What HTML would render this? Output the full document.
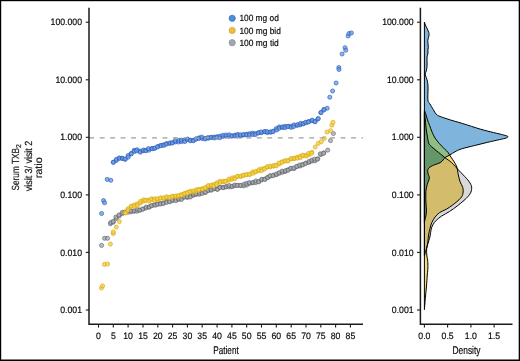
<!DOCTYPE html>
<html><head><meta charset="utf-8"><style>html,body{margin:0;padding:0;background:#fff;}svg{display:block;will-change:transform;}text{font-family:"Liberation Sans",sans-serif;text-rendering:geometricPrecision;stroke:#111;stroke-width:0.18px;}</style></head>
<body><svg width="520" height="361" viewBox="0 0 520 361" font-family="Liberation Sans, sans-serif">
<rect x="0" y="0" width="520" height="361" fill="#fff"/>
<g fill="#a8a8a8" fill-opacity="0.75" stroke="#5a606c" stroke-width="0.8" stroke-opacity="0.8"><circle cx="101.6" cy="245.4" r="2.05"/><circle cx="104.6" cy="238.3" r="2.05"/><circle cx="107.5" cy="238.3" r="2.05"/><circle cx="327.7" cy="150.1" r="2.05"/><circle cx="330.5" cy="140.6" r="2.05"/><circle cx="333.4" cy="133.5" r="2.05"/><circle cx="110.4" cy="223.8" r="2.05"/><circle cx="110.8" cy="222.5" r="2.05"/><circle cx="113.3" cy="222.2" r="2.05"/><circle cx="113.1" cy="221.4" r="2.05"/><circle cx="116.3" cy="218.5" r="2.05"/><circle cx="115.8" cy="217.1" r="2.05"/><circle cx="119.2" cy="215.9" r="2.05"/><circle cx="119.0" cy="214.9" r="2.05"/><circle cx="122.2" cy="213.7" r="2.05"/><circle cx="122.4" cy="212.3" r="2.05"/><circle cx="125.2" cy="212.1" r="2.05"/><circle cx="125.1" cy="212.3" r="2.05"/><circle cx="128.1" cy="210.6" r="2.05"/><circle cx="128.2" cy="212.3" r="2.05"/><circle cx="131.1" cy="211.8" r="2.05"/><circle cx="131.2" cy="211.1" r="2.05"/><circle cx="134.1" cy="211.3" r="2.05"/><circle cx="134.3" cy="210.8" r="2.05"/><circle cx="137.0" cy="211.3" r="2.05"/><circle cx="137.5" cy="209.6" r="2.05"/><circle cx="140.0" cy="210.2" r="2.05"/><circle cx="139.8" cy="210.1" r="2.05"/><circle cx="143.0" cy="209.1" r="2.05"/><circle cx="142.7" cy="209.0" r="2.05"/><circle cx="145.9" cy="208.0" r="2.05"/><circle cx="146.3" cy="207.1" r="2.05"/><circle cx="148.9" cy="207.1" r="2.05"/><circle cx="149.4" cy="207.0" r="2.05"/><circle cx="151.9" cy="205.7" r="2.05"/><circle cx="151.4" cy="205.6" r="2.05"/><circle cx="154.8" cy="204.5" r="2.05"/><circle cx="155.1" cy="205.3" r="2.05"/><circle cx="157.8" cy="204.1" r="2.05"/><circle cx="157.4" cy="204.3" r="2.05"/><circle cx="160.7" cy="203.4" r="2.05"/><circle cx="160.4" cy="204.1" r="2.05"/><circle cx="163.7" cy="202.8" r="2.05"/><circle cx="163.3" cy="203.6" r="2.05"/><circle cx="166.7" cy="201.3" r="2.05"/><circle cx="166.5" cy="202.5" r="2.05"/><circle cx="169.6" cy="201.5" r="2.05"/><circle cx="169.7" cy="201.7" r="2.05"/><circle cx="172.6" cy="200.6" r="2.05"/><circle cx="172.4" cy="199.9" r="2.05"/><circle cx="175.6" cy="199.2" r="2.05"/><circle cx="175.8" cy="200.7" r="2.05"/><circle cx="178.5" cy="199.4" r="2.05"/><circle cx="178.8" cy="199.0" r="2.05"/><circle cx="181.5" cy="198.2" r="2.05"/><circle cx="181.4" cy="199.5" r="2.05"/><circle cx="184.5" cy="196.9" r="2.05"/><circle cx="184.5" cy="197.1" r="2.05"/><circle cx="187.4" cy="197.5" r="2.05"/><circle cx="187.2" cy="196.6" r="2.05"/><circle cx="190.4" cy="196.1" r="2.05"/><circle cx="190.4" cy="197.0" r="2.05"/><circle cx="193.3" cy="195.3" r="2.05"/><circle cx="193.8" cy="194.6" r="2.05"/><circle cx="196.3" cy="194.4" r="2.05"/><circle cx="195.8" cy="193.8" r="2.05"/><circle cx="199.3" cy="194.3" r="2.05"/><circle cx="199.5" cy="193.0" r="2.05"/><circle cx="202.2" cy="192.3" r="2.05"/><circle cx="202.1" cy="193.5" r="2.05"/><circle cx="205.2" cy="192.5" r="2.05"/><circle cx="205.5" cy="192.2" r="2.05"/><circle cx="208.2" cy="190.5" r="2.05"/><circle cx="208.0" cy="190.3" r="2.05"/><circle cx="211.1" cy="190.3" r="2.05"/><circle cx="211.2" cy="189.5" r="2.05"/><circle cx="214.1" cy="189.0" r="2.05"/><circle cx="214.4" cy="188.3" r="2.05"/><circle cx="217.1" cy="188.9" r="2.05"/><circle cx="217.5" cy="189.5" r="2.05"/><circle cx="220.0" cy="187.2" r="2.05"/><circle cx="220.1" cy="187.6" r="2.05"/><circle cx="223.0" cy="187.4" r="2.05"/><circle cx="223.6" cy="187.7" r="2.05"/><circle cx="226.0" cy="186.6" r="2.05"/><circle cx="226.4" cy="186.9" r="2.05"/><circle cx="228.9" cy="186.9" r="2.05"/><circle cx="229.2" cy="185.5" r="2.05"/><circle cx="231.9" cy="186.7" r="2.05"/><circle cx="232.1" cy="186.2" r="2.05"/><circle cx="234.8" cy="185.8" r="2.05"/><circle cx="234.8" cy="185.0" r="2.05"/><circle cx="237.8" cy="185.4" r="2.05"/><circle cx="237.3" cy="185.4" r="2.05"/><circle cx="240.8" cy="185.5" r="2.05"/><circle cx="240.7" cy="185.4" r="2.05"/><circle cx="243.7" cy="185.9" r="2.05"/><circle cx="244.2" cy="184.1" r="2.05"/><circle cx="246.7" cy="185.1" r="2.05"/><circle cx="246.8" cy="183.4" r="2.05"/><circle cx="249.7" cy="183.4" r="2.05"/><circle cx="249.3" cy="182.6" r="2.05"/><circle cx="252.6" cy="182.9" r="2.05"/><circle cx="253.1" cy="182.4" r="2.05"/><circle cx="255.6" cy="182.6" r="2.05"/><circle cx="255.8" cy="181.0" r="2.05"/><circle cx="258.6" cy="181.5" r="2.05"/><circle cx="258.7" cy="181.9" r="2.05"/><circle cx="261.5" cy="180.0" r="2.05"/><circle cx="261.8" cy="179.3" r="2.05"/><circle cx="264.5" cy="179.1" r="2.05"/><circle cx="265.0" cy="179.4" r="2.05"/><circle cx="267.4" cy="177.5" r="2.05"/><circle cx="267.8" cy="177.6" r="2.05"/><circle cx="270.4" cy="176.1" r="2.05"/><circle cx="269.9" cy="175.7" r="2.05"/><circle cx="273.4" cy="175.1" r="2.05"/><circle cx="273.0" cy="175.7" r="2.05"/><circle cx="276.3" cy="174.7" r="2.05"/><circle cx="276.4" cy="174.1" r="2.05"/><circle cx="279.3" cy="173.2" r="2.05"/><circle cx="279.1" cy="172.8" r="2.05"/><circle cx="282.3" cy="172.3" r="2.05"/><circle cx="282.1" cy="171.1" r="2.05"/><circle cx="285.2" cy="171.6" r="2.05"/><circle cx="285.5" cy="170.6" r="2.05"/><circle cx="288.2" cy="169.7" r="2.05"/><circle cx="288.2" cy="170.2" r="2.05"/><circle cx="291.2" cy="168.5" r="2.05"/><circle cx="290.6" cy="168.3" r="2.05"/><circle cx="294.1" cy="168.6" r="2.05"/><circle cx="293.7" cy="168.0" r="2.05"/><circle cx="297.1" cy="166.6" r="2.05"/><circle cx="296.7" cy="166.3" r="2.05"/><circle cx="300.1" cy="166.0" r="2.05"/><circle cx="299.7" cy="165.0" r="2.05"/><circle cx="303.0" cy="164.3" r="2.05"/><circle cx="302.6" cy="164.9" r="2.05"/><circle cx="306.0" cy="163.0" r="2.05"/><circle cx="305.4" cy="163.6" r="2.05"/><circle cx="308.9" cy="162.4" r="2.05"/><circle cx="309.2" cy="161.4" r="2.05"/><circle cx="311.9" cy="161.1" r="2.05"/><circle cx="311.8" cy="160.1" r="2.05"/><circle cx="314.9" cy="160.9" r="2.05"/><circle cx="314.5" cy="159.1" r="2.05"/><circle cx="317.8" cy="158.8" r="2.05"/><circle cx="317.4" cy="159.2" r="2.05"/><circle cx="320.8" cy="154.6" r="2.05"/><circle cx="320.3" cy="153.8" r="2.05"/><circle cx="323.8" cy="152.9" r="2.05"/><circle cx="323.5" cy="153.3" r="2.05"/></g><g fill="#f2cf48" fill-opacity="0.8" stroke="#d8a810" stroke-width="0.8" stroke-opacity="0.8"><circle cx="101.4" cy="288.0" r="2.05"/><circle cx="102.6" cy="285.9" r="2.05"/><circle cx="104.5" cy="264.4" r="2.05"/><circle cx="107.6" cy="264.0" r="2.05"/><circle cx="110.4" cy="244.1" r="2.05"/><circle cx="113.3" cy="233.5" r="2.05"/><circle cx="113.3" cy="232.0" r="2.05"/><circle cx="116.3" cy="227.1" r="2.05"/><circle cx="119.4" cy="221.6" r="2.05"/><circle cx="315.2" cy="147.0" r="2.05"/><circle cx="318.3" cy="143.4" r="2.05"/><circle cx="321.3" cy="141.7" r="2.05"/><circle cx="324.3" cy="138.4" r="2.05"/><circle cx="327.0" cy="132.1" r="2.05"/><circle cx="330.5" cy="130.7" r="2.05"/><circle cx="331.9" cy="125.2" r="2.05"/><circle cx="333.0" cy="122.4" r="2.05"/><circle cx="125.2" cy="212.6" r="2.05"/><circle cx="125.7" cy="213.0" r="2.05"/><circle cx="128.1" cy="208.8" r="2.05"/><circle cx="127.8" cy="210.0" r="2.05"/><circle cx="131.1" cy="206.5" r="2.05"/><circle cx="131.4" cy="206.1" r="2.05"/><circle cx="134.1" cy="205.1" r="2.05"/><circle cx="134.1" cy="206.4" r="2.05"/><circle cx="137.0" cy="203.9" r="2.05"/><circle cx="137.4" cy="205.5" r="2.05"/><circle cx="140.0" cy="203.2" r="2.05"/><circle cx="140.4" cy="201.4" r="2.05"/><circle cx="143.0" cy="201.3" r="2.05"/><circle cx="143.4" cy="199.9" r="2.05"/><circle cx="145.9" cy="200.0" r="2.05"/><circle cx="145.6" cy="200.5" r="2.05"/><circle cx="148.9" cy="200.2" r="2.05"/><circle cx="148.9" cy="201.0" r="2.05"/><circle cx="151.9" cy="199.1" r="2.05"/><circle cx="151.3" cy="199.0" r="2.05"/><circle cx="154.8" cy="198.7" r="2.05"/><circle cx="154.3" cy="200.6" r="2.05"/><circle cx="157.8" cy="199.5" r="2.05"/><circle cx="157.3" cy="198.8" r="2.05"/><circle cx="160.7" cy="198.0" r="2.05"/><circle cx="160.5" cy="198.0" r="2.05"/><circle cx="163.7" cy="198.4" r="2.05"/><circle cx="163.8" cy="197.8" r="2.05"/><circle cx="166.7" cy="197.3" r="2.05"/><circle cx="166.5" cy="196.9" r="2.05"/><circle cx="169.6" cy="197.7" r="2.05"/><circle cx="169.9" cy="197.3" r="2.05"/><circle cx="172.6" cy="196.2" r="2.05"/><circle cx="172.2" cy="196.7" r="2.05"/><circle cx="175.6" cy="196.5" r="2.05"/><circle cx="175.9" cy="196.0" r="2.05"/><circle cx="178.5" cy="196.2" r="2.05"/><circle cx="178.7" cy="195.5" r="2.05"/><circle cx="181.5" cy="194.5" r="2.05"/><circle cx="181.5" cy="195.3" r="2.05"/><circle cx="184.5" cy="193.6" r="2.05"/><circle cx="184.7" cy="193.6" r="2.05"/><circle cx="187.4" cy="192.3" r="2.05"/><circle cx="187.5" cy="193.3" r="2.05"/><circle cx="190.4" cy="191.2" r="2.05"/><circle cx="190.3" cy="191.8" r="2.05"/><circle cx="193.3" cy="191.8" r="2.05"/><circle cx="193.9" cy="190.8" r="2.05"/><circle cx="196.3" cy="190.9" r="2.05"/><circle cx="196.7" cy="189.6" r="2.05"/><circle cx="199.3" cy="189.3" r="2.05"/><circle cx="198.8" cy="190.1" r="2.05"/><circle cx="202.2" cy="188.7" r="2.05"/><circle cx="202.7" cy="189.2" r="2.05"/><circle cx="205.2" cy="187.9" r="2.05"/><circle cx="205.5" cy="187.7" r="2.05"/><circle cx="208.2" cy="186.2" r="2.05"/><circle cx="208.3" cy="185.6" r="2.05"/><circle cx="211.1" cy="185.6" r="2.05"/><circle cx="211.5" cy="185.1" r="2.05"/><circle cx="214.1" cy="184.4" r="2.05"/><circle cx="213.6" cy="186.1" r="2.05"/><circle cx="217.1" cy="182.7" r="2.05"/><circle cx="216.5" cy="184.2" r="2.05"/><circle cx="220.0" cy="181.2" r="2.05"/><circle cx="220.4" cy="182.3" r="2.05"/><circle cx="223.0" cy="181.8" r="2.05"/><circle cx="223.5" cy="181.4" r="2.05"/><circle cx="226.0" cy="181.2" r="2.05"/><circle cx="225.4" cy="181.3" r="2.05"/><circle cx="228.9" cy="180.0" r="2.05"/><circle cx="229.2" cy="179.0" r="2.05"/><circle cx="231.9" cy="179.4" r="2.05"/><circle cx="232.4" cy="177.9" r="2.05"/><circle cx="234.8" cy="177.6" r="2.05"/><circle cx="234.9" cy="178.7" r="2.05"/><circle cx="237.8" cy="176.4" r="2.05"/><circle cx="237.4" cy="176.3" r="2.05"/><circle cx="240.8" cy="176.5" r="2.05"/><circle cx="241.1" cy="176.0" r="2.05"/><circle cx="243.7" cy="175.3" r="2.05"/><circle cx="243.6" cy="175.2" r="2.05"/><circle cx="246.7" cy="174.6" r="2.05"/><circle cx="246.2" cy="174.7" r="2.05"/><circle cx="249.7" cy="174.5" r="2.05"/><circle cx="249.6" cy="174.3" r="2.05"/><circle cx="252.6" cy="172.0" r="2.05"/><circle cx="252.9" cy="173.3" r="2.05"/><circle cx="255.6" cy="171.9" r="2.05"/><circle cx="255.6" cy="171.6" r="2.05"/><circle cx="258.6" cy="170.8" r="2.05"/><circle cx="259.0" cy="169.7" r="2.05"/><circle cx="261.5" cy="168.8" r="2.05"/><circle cx="261.8" cy="170.6" r="2.05"/><circle cx="264.5" cy="168.5" r="2.05"/><circle cx="264.4" cy="169.0" r="2.05"/><circle cx="267.4" cy="167.0" r="2.05"/><circle cx="267.2" cy="166.8" r="2.05"/><circle cx="270.4" cy="166.9" r="2.05"/><circle cx="270.2" cy="166.1" r="2.05"/><circle cx="273.4" cy="166.2" r="2.05"/><circle cx="273.9" cy="165.4" r="2.05"/><circle cx="276.3" cy="165.2" r="2.05"/><circle cx="276.2" cy="165.8" r="2.05"/><circle cx="279.3" cy="163.9" r="2.05"/><circle cx="279.0" cy="163.0" r="2.05"/><circle cx="282.3" cy="161.7" r="2.05"/><circle cx="282.2" cy="162.3" r="2.05"/><circle cx="285.2" cy="160.8" r="2.05"/><circle cx="285.1" cy="160.9" r="2.05"/><circle cx="288.2" cy="160.4" r="2.05"/><circle cx="287.8" cy="161.1" r="2.05"/><circle cx="291.2" cy="158.7" r="2.05"/><circle cx="291.3" cy="158.6" r="2.05"/><circle cx="294.1" cy="158.6" r="2.05"/><circle cx="294.5" cy="158.2" r="2.05"/><circle cx="297.1" cy="157.3" r="2.05"/><circle cx="297.4" cy="158.2" r="2.05"/><circle cx="300.1" cy="156.4" r="2.05"/><circle cx="300.3" cy="157.7" r="2.05"/><circle cx="303.0" cy="155.7" r="2.05"/><circle cx="302.7" cy="155.1" r="2.05"/><circle cx="306.0" cy="155.3" r="2.05"/><circle cx="306.2" cy="156.1" r="2.05"/><circle cx="308.9" cy="154.7" r="2.05"/><circle cx="308.6" cy="153.3" r="2.05"/><circle cx="311.9" cy="152.3" r="2.05"/><circle cx="311.5" cy="153.3" r="2.05"/></g><g fill="#6b9ae0" fill-opacity="0.75" stroke="#2558bb" stroke-width="0.8" stroke-opacity="0.8"><circle cx="101.6" cy="213.5" r="2.05"/><circle cx="103.5" cy="200.6" r="2.05"/><circle cx="104.6" cy="202.8" r="2.05"/><circle cx="107.2" cy="179.4" r="2.05"/><circle cx="110.8" cy="180.3" r="2.05"/><circle cx="327.2" cy="108.3" r="2.05"/><circle cx="329.8" cy="97.2" r="2.05"/><circle cx="332.6" cy="91.0" r="2.05"/><circle cx="336.1" cy="83.0" r="2.05"/><circle cx="338.8" cy="67.5" r="2.05"/><circle cx="339.0" cy="69.5" r="2.05"/><circle cx="342.1" cy="54.0" r="2.05"/><circle cx="345.0" cy="47.7" r="2.05"/><circle cx="345.8" cy="50.2" r="2.05"/><circle cx="348.1" cy="36.0" r="2.05"/><circle cx="349.0" cy="33.5" r="2.05"/><circle cx="351.4" cy="33.0" r="2.05"/><circle cx="113.3" cy="162.2" r="2.05"/><circle cx="113.4" cy="162.3" r="2.05"/><circle cx="116.3" cy="160.5" r="2.05"/><circle cx="116.4" cy="159.3" r="2.05"/><circle cx="119.2" cy="158.0" r="2.05"/><circle cx="119.7" cy="158.3" r="2.05"/><circle cx="122.2" cy="158.2" r="2.05"/><circle cx="122.8" cy="158.6" r="2.05"/><circle cx="125.2" cy="159.3" r="2.05"/><circle cx="125.1" cy="159.1" r="2.05"/><circle cx="128.1" cy="155.5" r="2.05"/><circle cx="128.3" cy="157.1" r="2.05"/><circle cx="131.1" cy="153.5" r="2.05"/><circle cx="131.4" cy="153.8" r="2.05"/><circle cx="134.1" cy="150.4" r="2.05"/><circle cx="134.4" cy="151.4" r="2.05"/><circle cx="137.0" cy="149.7" r="2.05"/><circle cx="136.5" cy="150.9" r="2.05"/><circle cx="140.0" cy="151.1" r="2.05"/><circle cx="140.3" cy="152.2" r="2.05"/><circle cx="143.0" cy="150.8" r="2.05"/><circle cx="143.5" cy="150.1" r="2.05"/><circle cx="145.9" cy="150.3" r="2.05"/><circle cx="145.9" cy="150.8" r="2.05"/><circle cx="148.9" cy="150.2" r="2.05"/><circle cx="148.4" cy="148.6" r="2.05"/><circle cx="151.9" cy="148.4" r="2.05"/><circle cx="152.4" cy="148.7" r="2.05"/><circle cx="154.8" cy="148.3" r="2.05"/><circle cx="154.6" cy="148.1" r="2.05"/><circle cx="157.8" cy="146.5" r="2.05"/><circle cx="157.6" cy="146.9" r="2.05"/><circle cx="160.7" cy="145.4" r="2.05"/><circle cx="161.2" cy="145.7" r="2.05"/><circle cx="163.7" cy="144.8" r="2.05"/><circle cx="164.1" cy="145.3" r="2.05"/><circle cx="166.7" cy="143.5" r="2.05"/><circle cx="166.3" cy="144.1" r="2.05"/><circle cx="169.6" cy="143.5" r="2.05"/><circle cx="170.1" cy="142.9" r="2.05"/><circle cx="172.6" cy="142.6" r="2.05"/><circle cx="172.3" cy="143.0" r="2.05"/><circle cx="175.6" cy="141.9" r="2.05"/><circle cx="175.3" cy="140.6" r="2.05"/><circle cx="178.5" cy="142.0" r="2.05"/><circle cx="179.1" cy="140.3" r="2.05"/><circle cx="181.5" cy="141.6" r="2.05"/><circle cx="181.4" cy="140.1" r="2.05"/><circle cx="184.5" cy="140.3" r="2.05"/><circle cx="184.8" cy="141.6" r="2.05"/><circle cx="187.4" cy="139.4" r="2.05"/><circle cx="187.6" cy="139.1" r="2.05"/><circle cx="190.4" cy="140.2" r="2.05"/><circle cx="190.2" cy="140.8" r="2.05"/><circle cx="193.3" cy="140.3" r="2.05"/><circle cx="193.4" cy="140.7" r="2.05"/><circle cx="196.3" cy="138.7" r="2.05"/><circle cx="195.8" cy="139.3" r="2.05"/><circle cx="199.3" cy="137.8" r="2.05"/><circle cx="198.9" cy="138.4" r="2.05"/><circle cx="202.2" cy="138.5" r="2.05"/><circle cx="201.8" cy="137.1" r="2.05"/><circle cx="205.2" cy="138.5" r="2.05"/><circle cx="205.0" cy="139.0" r="2.05"/><circle cx="208.2" cy="138.3" r="2.05"/><circle cx="208.0" cy="137.5" r="2.05"/><circle cx="211.1" cy="137.3" r="2.05"/><circle cx="211.3" cy="137.5" r="2.05"/><circle cx="214.1" cy="137.0" r="2.05"/><circle cx="214.2" cy="138.0" r="2.05"/><circle cx="217.1" cy="136.7" r="2.05"/><circle cx="217.0" cy="137.3" r="2.05"/><circle cx="220.0" cy="136.1" r="2.05"/><circle cx="219.8" cy="137.8" r="2.05"/><circle cx="223.0" cy="136.4" r="2.05"/><circle cx="223.0" cy="135.2" r="2.05"/><circle cx="226.0" cy="136.1" r="2.05"/><circle cx="226.0" cy="135.0" r="2.05"/><circle cx="228.9" cy="136.2" r="2.05"/><circle cx="229.1" cy="134.8" r="2.05"/><circle cx="231.9" cy="135.9" r="2.05"/><circle cx="231.8" cy="136.1" r="2.05"/><circle cx="234.8" cy="135.1" r="2.05"/><circle cx="235.1" cy="136.0" r="2.05"/><circle cx="237.8" cy="134.4" r="2.05"/><circle cx="237.3" cy="135.7" r="2.05"/><circle cx="240.8" cy="135.9" r="2.05"/><circle cx="240.5" cy="134.9" r="2.05"/><circle cx="243.7" cy="135.0" r="2.05"/><circle cx="243.5" cy="134.5" r="2.05"/><circle cx="246.7" cy="134.2" r="2.05"/><circle cx="246.5" cy="134.8" r="2.05"/><circle cx="249.7" cy="133.7" r="2.05"/><circle cx="249.5" cy="134.7" r="2.05"/><circle cx="252.6" cy="133.1" r="2.05"/><circle cx="252.7" cy="134.6" r="2.05"/><circle cx="255.6" cy="133.5" r="2.05"/><circle cx="255.3" cy="134.6" r="2.05"/><circle cx="258.6" cy="132.7" r="2.05"/><circle cx="258.2" cy="133.0" r="2.05"/><circle cx="261.5" cy="132.7" r="2.05"/><circle cx="261.0" cy="131.9" r="2.05"/><circle cx="264.5" cy="131.6" r="2.05"/><circle cx="264.9" cy="131.8" r="2.05"/><circle cx="267.4" cy="132.6" r="2.05"/><circle cx="267.1" cy="131.5" r="2.05"/><circle cx="270.4" cy="132.2" r="2.05"/><circle cx="270.9" cy="131.9" r="2.05"/><circle cx="273.4" cy="131.1" r="2.05"/><circle cx="272.9" cy="131.7" r="2.05"/><circle cx="276.3" cy="128.6" r="2.05"/><circle cx="276.7" cy="130.0" r="2.05"/><circle cx="279.3" cy="126.9" r="2.05"/><circle cx="279.0" cy="128.3" r="2.05"/><circle cx="282.3" cy="127.5" r="2.05"/><circle cx="282.6" cy="126.8" r="2.05"/><circle cx="285.2" cy="126.3" r="2.05"/><circle cx="285.0" cy="127.7" r="2.05"/><circle cx="288.2" cy="126.3" r="2.05"/><circle cx="288.0" cy="126.5" r="2.05"/><circle cx="291.2" cy="126.2" r="2.05"/><circle cx="291.1" cy="127.4" r="2.05"/><circle cx="294.1" cy="124.9" r="2.05"/><circle cx="293.5" cy="126.7" r="2.05"/><circle cx="297.1" cy="125.5" r="2.05"/><circle cx="297.7" cy="124.6" r="2.05"/><circle cx="300.1" cy="124.9" r="2.05"/><circle cx="300.6" cy="123.4" r="2.05"/><circle cx="303.0" cy="123.8" r="2.05"/><circle cx="303.4" cy="123.7" r="2.05"/><circle cx="306.0" cy="122.7" r="2.05"/><circle cx="305.7" cy="122.2" r="2.05"/><circle cx="308.9" cy="121.4" r="2.05"/><circle cx="308.4" cy="122.1" r="2.05"/><circle cx="311.9" cy="120.8" r="2.05"/><circle cx="312.3" cy="120.1" r="2.05"/><circle cx="314.9" cy="121.5" r="2.05"/><circle cx="315.1" cy="121.8" r="2.05"/><circle cx="317.8" cy="119.0" r="2.05"/><circle cx="318.3" cy="118.5" r="2.05"/><circle cx="320.8" cy="112.6" r="2.05"/><circle cx="321.1" cy="112.6" r="2.05"/><circle cx="323.8" cy="109.5" r="2.05"/><circle cx="324.0" cy="109.9" r="2.05"/></g>
<line x1="89.2" y1="137.9" x2="363" y2="137.9" stroke="#9e9e9e" stroke-width="1.3" stroke-dasharray="4.9 5.575"/>

<defs>
<clipPath id="cy"><path d="M424.40,110.50 C424.50,110.72 424.67,110.88 425.00,111.80 C425.33,112.72 425.98,114.63 426.40,116.00 C426.82,117.37 426.97,118.42 427.50,120.00 C428.03,121.58 428.90,123.65 429.60,125.50 C430.30,127.35 431.00,129.37 431.70,131.10 C432.40,132.83 433.00,134.40 433.80,135.90 C434.60,137.40 435.58,138.83 436.50,140.10 C437.42,141.37 438.38,142.43 439.30,143.50 C440.22,144.57 441.08,145.57 442.00,146.50 C442.92,147.43 443.78,148.10 444.80,149.10 C445.82,150.10 447.20,151.35 448.10,152.50 C449.00,153.65 449.47,154.87 450.20,156.00 C450.93,157.13 451.70,158.10 452.50,159.30 C453.30,160.50 454.25,161.83 455.00,163.20 C455.75,164.57 456.50,165.82 457.00,167.50 C457.50,169.18 457.50,170.95 458.00,173.30 C458.50,175.65 459.20,179.23 460.00,181.60 C460.80,183.97 462.30,185.57 462.80,187.50 C463.30,189.43 463.37,191.42 463.00,193.20 C462.63,194.98 462.30,196.25 460.60,198.20 C458.90,200.15 455.20,203.05 452.80,204.90 C450.40,206.75 448.42,208.02 446.20,209.30 C443.98,210.58 441.35,211.30 439.50,212.60 C437.65,213.90 436.38,215.43 435.10,217.10 C433.82,218.77 432.63,220.77 431.80,222.60 C430.97,224.43 430.63,226.03 430.10,228.10 C429.57,230.17 428.98,232.58 428.60,235.00 C428.22,237.42 428.13,240.22 427.80,242.60 C427.47,244.98 426.75,247.07 426.60,249.30 C426.45,251.53 426.70,253.97 426.90,256.00 C427.10,258.03 427.65,259.30 427.80,261.50 C427.95,263.70 427.90,266.78 427.80,269.20 C427.70,271.62 427.42,273.20 427.20,276.00 C426.98,278.80 426.82,282.23 426.50,286.00 C426.18,289.77 425.65,294.67 425.30,298.60 C424.95,302.53 424.55,307.77 424.40,309.60 Z"/></clipPath>
<clipPath id="cg"><path d="M424.40,113.00 C424.52,113.75 424.90,115.87 425.10,117.50 C425.30,119.13 425.42,120.88 425.60,122.80 C425.78,124.72 425.88,126.58 426.20,129.00 C426.52,131.42 427.05,134.88 427.50,137.30 C427.95,139.72 428.23,141.95 428.90,143.50 C429.57,145.05 430.23,145.38 431.50,146.60 C432.77,147.82 434.98,149.55 436.50,150.80 C438.02,152.05 439.35,153.07 440.60,154.10 C441.85,155.13 442.75,156.03 444.00,157.00 C445.25,157.97 446.87,159.00 448.10,159.90 C449.33,160.80 450.18,161.30 451.40,162.40 C452.62,163.50 454.22,165.23 455.40,166.50 C456.58,167.77 457.18,168.58 458.50,170.00 C459.82,171.42 461.53,173.07 463.30,175.00 C465.07,176.93 467.72,179.63 469.10,181.60 C470.48,183.57 471.30,185.03 471.60,186.80 C471.90,188.57 471.50,190.58 470.90,192.20 C470.30,193.82 469.15,195.13 468.00,196.50 C466.85,197.87 465.80,198.82 464.00,200.40 C462.20,201.98 459.62,204.15 457.20,206.00 C454.78,207.85 452.08,209.83 449.50,211.50 C446.92,213.17 443.92,214.52 441.70,216.00 C439.48,217.48 437.67,218.93 436.20,220.40 C434.73,221.87 433.73,223.33 432.90,224.80 C432.07,226.27 431.67,227.33 431.20,229.20 C430.73,231.07 430.48,234.13 430.10,236.00 C429.72,237.87 429.38,238.73 428.90,240.40 C428.42,242.07 427.75,244.15 427.20,246.00 C426.65,247.85 426.07,249.83 425.60,251.50 C425.13,253.17 424.60,255.25 424.40,256.00 Z"/></clipPath>
<clipPath id="cb"><path d="M424.40,22.00 C424.57,22.50 424.93,23.88 425.40,25.00 C425.87,26.12 426.63,27.45 427.20,28.70 C427.77,29.95 428.48,31.57 428.80,32.50 C429.12,33.43 429.15,33.48 429.10,34.30 C429.05,35.12 428.72,36.37 428.50,37.40 C428.28,38.43 427.87,39.35 427.80,40.50 C427.73,41.65 428.02,43.15 428.10,44.30 C428.18,45.45 428.33,46.45 428.30,47.40 C428.27,48.35 427.95,49.10 427.90,50.00 C427.85,50.90 428.08,51.88 428.00,52.80 C427.92,53.72 427.57,54.58 427.40,55.50 C427.23,56.42 427.05,57.13 427.00,58.30 C426.95,59.47 427.10,61.12 427.10,62.50 C427.10,63.88 427.13,65.22 427.00,66.60 C426.87,67.98 426.60,69.53 426.30,70.80 C426.00,72.07 425.20,73.05 425.20,74.20 C425.20,75.35 425.93,76.53 426.30,77.70 C426.67,78.87 427.12,79.82 427.40,81.20 C427.68,82.58 427.90,84.28 428.00,86.00 C428.10,87.72 428.03,89.67 428.00,91.50 C427.97,93.33 427.78,95.38 427.80,97.00 C427.82,98.62 427.77,100.07 428.10,101.20 C428.43,102.33 428.93,102.40 429.80,103.80 C430.67,105.20 432.23,107.87 433.30,109.60 C434.37,111.33 435.05,113.05 436.20,114.20 C437.35,115.35 437.80,115.53 440.20,116.50 C442.60,117.47 446.93,118.85 450.60,120.00 C454.27,121.15 457.15,121.85 462.20,123.40 C467.25,124.95 475.70,127.78 480.90,129.30 C486.10,130.82 489.62,131.55 493.40,132.50 C497.18,133.45 501.20,134.35 503.60,135.00 C506.00,135.65 507.37,135.90 507.80,136.40 C508.23,136.90 507.57,137.47 506.20,138.00 C504.83,138.53 502.77,138.87 499.60,139.60 C496.43,140.33 491.35,141.42 487.20,142.40 C483.05,143.38 478.87,144.45 474.70,145.50 C470.53,146.55 465.32,147.75 462.20,148.70 C459.08,149.65 458.13,150.10 456.00,151.20 C453.87,152.30 451.23,154.23 449.40,155.30 C447.57,156.37 446.43,156.43 445.00,157.60 C443.57,158.77 442.88,160.97 440.80,162.30 C438.72,163.63 434.58,164.53 432.50,165.60 C430.42,166.67 429.07,167.48 428.30,168.70 C427.53,169.92 427.73,171.33 427.90,172.90 C428.07,174.47 429.40,176.20 429.30,178.10 C429.20,180.00 427.87,182.05 427.30,184.30 C426.73,186.55 426.13,188.65 425.90,191.60 C425.67,194.55 425.82,198.93 425.90,202.00 C425.98,205.07 426.38,207.75 426.40,210.00 C426.42,212.25 426.23,213.92 426.00,215.50 C425.77,217.08 425.27,218.25 425.00,219.50 C424.73,220.75 424.50,222.42 424.40,223.00 Z"/></clipPath>
</defs>
<path d="M424.40,113.00 C424.52,113.75 424.90,115.87 425.10,117.50 C425.30,119.13 425.42,120.88 425.60,122.80 C425.78,124.72 425.88,126.58 426.20,129.00 C426.52,131.42 427.05,134.88 427.50,137.30 C427.95,139.72 428.23,141.95 428.90,143.50 C429.57,145.05 430.23,145.38 431.50,146.60 C432.77,147.82 434.98,149.55 436.50,150.80 C438.02,152.05 439.35,153.07 440.60,154.10 C441.85,155.13 442.75,156.03 444.00,157.00 C445.25,157.97 446.87,159.00 448.10,159.90 C449.33,160.80 450.18,161.30 451.40,162.40 C452.62,163.50 454.22,165.23 455.40,166.50 C456.58,167.77 457.18,168.58 458.50,170.00 C459.82,171.42 461.53,173.07 463.30,175.00 C465.07,176.93 467.72,179.63 469.10,181.60 C470.48,183.57 471.30,185.03 471.60,186.80 C471.90,188.57 471.50,190.58 470.90,192.20 C470.30,193.82 469.15,195.13 468.00,196.50 C466.85,197.87 465.80,198.82 464.00,200.40 C462.20,201.98 459.62,204.15 457.20,206.00 C454.78,207.85 452.08,209.83 449.50,211.50 C446.92,213.17 443.92,214.52 441.70,216.00 C439.48,217.48 437.67,218.93 436.20,220.40 C434.73,221.87 433.73,223.33 432.90,224.80 C432.07,226.27 431.67,227.33 431.20,229.20 C430.73,231.07 430.48,234.13 430.10,236.00 C429.72,237.87 429.38,238.73 428.90,240.40 C428.42,242.07 427.75,244.15 427.20,246.00 C426.65,247.85 426.07,249.83 425.60,251.50 C425.13,253.17 424.60,255.25 424.40,256.00 Z" fill="#d9d9da"/>
<path d="M424.40,110.50 C424.50,110.72 424.67,110.88 425.00,111.80 C425.33,112.72 425.98,114.63 426.40,116.00 C426.82,117.37 426.97,118.42 427.50,120.00 C428.03,121.58 428.90,123.65 429.60,125.50 C430.30,127.35 431.00,129.37 431.70,131.10 C432.40,132.83 433.00,134.40 433.80,135.90 C434.60,137.40 435.58,138.83 436.50,140.10 C437.42,141.37 438.38,142.43 439.30,143.50 C440.22,144.57 441.08,145.57 442.00,146.50 C442.92,147.43 443.78,148.10 444.80,149.10 C445.82,150.10 447.20,151.35 448.10,152.50 C449.00,153.65 449.47,154.87 450.20,156.00 C450.93,157.13 451.70,158.10 452.50,159.30 C453.30,160.50 454.25,161.83 455.00,163.20 C455.75,164.57 456.50,165.82 457.00,167.50 C457.50,169.18 457.50,170.95 458.00,173.30 C458.50,175.65 459.20,179.23 460.00,181.60 C460.80,183.97 462.30,185.57 462.80,187.50 C463.30,189.43 463.37,191.42 463.00,193.20 C462.63,194.98 462.30,196.25 460.60,198.20 C458.90,200.15 455.20,203.05 452.80,204.90 C450.40,206.75 448.42,208.02 446.20,209.30 C443.98,210.58 441.35,211.30 439.50,212.60 C437.65,213.90 436.38,215.43 435.10,217.10 C433.82,218.77 432.63,220.77 431.80,222.60 C430.97,224.43 430.63,226.03 430.10,228.10 C429.57,230.17 428.98,232.58 428.60,235.00 C428.22,237.42 428.13,240.22 427.80,242.60 C427.47,244.98 426.75,247.07 426.60,249.30 C426.45,251.53 426.70,253.97 426.90,256.00 C427.10,258.03 427.65,259.30 427.80,261.50 C427.95,263.70 427.90,266.78 427.80,269.20 C427.70,271.62 427.42,273.20 427.20,276.00 C426.98,278.80 426.82,282.23 426.50,286.00 C426.18,289.77 425.65,294.67 425.30,298.60 C424.95,302.53 424.55,307.77 424.40,309.60 Z" fill="#f3db79"/>
<g clip-path="url(#cg)"><path d="M424.40,110.50 C424.50,110.72 424.67,110.88 425.00,111.80 C425.33,112.72 425.98,114.63 426.40,116.00 C426.82,117.37 426.97,118.42 427.50,120.00 C428.03,121.58 428.90,123.65 429.60,125.50 C430.30,127.35 431.00,129.37 431.70,131.10 C432.40,132.83 433.00,134.40 433.80,135.90 C434.60,137.40 435.58,138.83 436.50,140.10 C437.42,141.37 438.38,142.43 439.30,143.50 C440.22,144.57 441.08,145.57 442.00,146.50 C442.92,147.43 443.78,148.10 444.80,149.10 C445.82,150.10 447.20,151.35 448.10,152.50 C449.00,153.65 449.47,154.87 450.20,156.00 C450.93,157.13 451.70,158.10 452.50,159.30 C453.30,160.50 454.25,161.83 455.00,163.20 C455.75,164.57 456.50,165.82 457.00,167.50 C457.50,169.18 457.50,170.95 458.00,173.30 C458.50,175.65 459.20,179.23 460.00,181.60 C460.80,183.97 462.30,185.57 462.80,187.50 C463.30,189.43 463.37,191.42 463.00,193.20 C462.63,194.98 462.30,196.25 460.60,198.20 C458.90,200.15 455.20,203.05 452.80,204.90 C450.40,206.75 448.42,208.02 446.20,209.30 C443.98,210.58 441.35,211.30 439.50,212.60 C437.65,213.90 436.38,215.43 435.10,217.10 C433.82,218.77 432.63,220.77 431.80,222.60 C430.97,224.43 430.63,226.03 430.10,228.10 C429.57,230.17 428.98,232.58 428.60,235.00 C428.22,237.42 428.13,240.22 427.80,242.60 C427.47,244.98 426.75,247.07 426.60,249.30 C426.45,251.53 426.70,253.97 426.90,256.00 C427.10,258.03 427.65,259.30 427.80,261.50 C427.95,263.70 427.90,266.78 427.80,269.20 C427.70,271.62 427.42,273.20 427.20,276.00 C426.98,278.80 426.82,282.23 426.50,286.00 C426.18,289.77 425.65,294.67 425.30,298.60 C424.95,302.53 424.55,307.77 424.40,309.60 Z" fill="#d3bc6c"/></g>
<path d="M424.40,22.00 C424.57,22.50 424.93,23.88 425.40,25.00 C425.87,26.12 426.63,27.45 427.20,28.70 C427.77,29.95 428.48,31.57 428.80,32.50 C429.12,33.43 429.15,33.48 429.10,34.30 C429.05,35.12 428.72,36.37 428.50,37.40 C428.28,38.43 427.87,39.35 427.80,40.50 C427.73,41.65 428.02,43.15 428.10,44.30 C428.18,45.45 428.33,46.45 428.30,47.40 C428.27,48.35 427.95,49.10 427.90,50.00 C427.85,50.90 428.08,51.88 428.00,52.80 C427.92,53.72 427.57,54.58 427.40,55.50 C427.23,56.42 427.05,57.13 427.00,58.30 C426.95,59.47 427.10,61.12 427.10,62.50 C427.10,63.88 427.13,65.22 427.00,66.60 C426.87,67.98 426.60,69.53 426.30,70.80 C426.00,72.07 425.20,73.05 425.20,74.20 C425.20,75.35 425.93,76.53 426.30,77.70 C426.67,78.87 427.12,79.82 427.40,81.20 C427.68,82.58 427.90,84.28 428.00,86.00 C428.10,87.72 428.03,89.67 428.00,91.50 C427.97,93.33 427.78,95.38 427.80,97.00 C427.82,98.62 427.77,100.07 428.10,101.20 C428.43,102.33 428.93,102.40 429.80,103.80 C430.67,105.20 432.23,107.87 433.30,109.60 C434.37,111.33 435.05,113.05 436.20,114.20 C437.35,115.35 437.80,115.53 440.20,116.50 C442.60,117.47 446.93,118.85 450.60,120.00 C454.27,121.15 457.15,121.85 462.20,123.40 C467.25,124.95 475.70,127.78 480.90,129.30 C486.10,130.82 489.62,131.55 493.40,132.50 C497.18,133.45 501.20,134.35 503.60,135.00 C506.00,135.65 507.37,135.90 507.80,136.40 C508.23,136.90 507.57,137.47 506.20,138.00 C504.83,138.53 502.77,138.87 499.60,139.60 C496.43,140.33 491.35,141.42 487.20,142.40 C483.05,143.38 478.87,144.45 474.70,145.50 C470.53,146.55 465.32,147.75 462.20,148.70 C459.08,149.65 458.13,150.10 456.00,151.20 C453.87,152.30 451.23,154.23 449.40,155.30 C447.57,156.37 446.43,156.43 445.00,157.60 C443.57,158.77 442.88,160.97 440.80,162.30 C438.72,163.63 434.58,164.53 432.50,165.60 C430.42,166.67 429.07,167.48 428.30,168.70 C427.53,169.92 427.73,171.33 427.90,172.90 C428.07,174.47 429.40,176.20 429.30,178.10 C429.20,180.00 427.87,182.05 427.30,184.30 C426.73,186.55 426.13,188.65 425.90,191.60 C425.67,194.55 425.82,198.93 425.90,202.00 C425.98,205.07 426.38,207.75 426.40,210.00 C426.42,212.25 426.23,213.92 426.00,215.50 C425.77,217.08 425.27,218.25 425.00,219.50 C424.73,220.75 424.50,222.42 424.40,223.00 Z" fill="#7fb4dd"/>
<g clip-path="url(#cb)"><path d="M424.40,110.50 C424.50,110.72 424.67,110.88 425.00,111.80 C425.33,112.72 425.98,114.63 426.40,116.00 C426.82,117.37 426.97,118.42 427.50,120.00 C428.03,121.58 428.90,123.65 429.60,125.50 C430.30,127.35 431.00,129.37 431.70,131.10 C432.40,132.83 433.00,134.40 433.80,135.90 C434.60,137.40 435.58,138.83 436.50,140.10 C437.42,141.37 438.38,142.43 439.30,143.50 C440.22,144.57 441.08,145.57 442.00,146.50 C442.92,147.43 443.78,148.10 444.80,149.10 C445.82,150.10 447.20,151.35 448.10,152.50 C449.00,153.65 449.47,154.87 450.20,156.00 C450.93,157.13 451.70,158.10 452.50,159.30 C453.30,160.50 454.25,161.83 455.00,163.20 C455.75,164.57 456.50,165.82 457.00,167.50 C457.50,169.18 457.50,170.95 458.00,173.30 C458.50,175.65 459.20,179.23 460.00,181.60 C460.80,183.97 462.30,185.57 462.80,187.50 C463.30,189.43 463.37,191.42 463.00,193.20 C462.63,194.98 462.30,196.25 460.60,198.20 C458.90,200.15 455.20,203.05 452.80,204.90 C450.40,206.75 448.42,208.02 446.20,209.30 C443.98,210.58 441.35,211.30 439.50,212.60 C437.65,213.90 436.38,215.43 435.10,217.10 C433.82,218.77 432.63,220.77 431.80,222.60 C430.97,224.43 430.63,226.03 430.10,228.10 C429.57,230.17 428.98,232.58 428.60,235.00 C428.22,237.42 428.13,240.22 427.80,242.60 C427.47,244.98 426.75,247.07 426.60,249.30 C426.45,251.53 426.70,253.97 426.90,256.00 C427.10,258.03 427.65,259.30 427.80,261.50 C427.95,263.70 427.90,266.78 427.80,269.20 C427.70,271.62 427.42,273.20 427.20,276.00 C426.98,278.80 426.82,282.23 426.50,286.00 C426.18,289.77 425.65,294.67 425.30,298.60 C424.95,302.53 424.55,307.77 424.40,309.60 Z" fill="#8fbd82"/></g>
<g clip-path="url(#cb)"><g clip-path="url(#cg)"><path d="M424.40,110.50 C424.50,110.72 424.67,110.88 425.00,111.80 C425.33,112.72 425.98,114.63 426.40,116.00 C426.82,117.37 426.97,118.42 427.50,120.00 C428.03,121.58 428.90,123.65 429.60,125.50 C430.30,127.35 431.00,129.37 431.70,131.10 C432.40,132.83 433.00,134.40 433.80,135.90 C434.60,137.40 435.58,138.83 436.50,140.10 C437.42,141.37 438.38,142.43 439.30,143.50 C440.22,144.57 441.08,145.57 442.00,146.50 C442.92,147.43 443.78,148.10 444.80,149.10 C445.82,150.10 447.20,151.35 448.10,152.50 C449.00,153.65 449.47,154.87 450.20,156.00 C450.93,157.13 451.70,158.10 452.50,159.30 C453.30,160.50 454.25,161.83 455.00,163.20 C455.75,164.57 456.50,165.82 457.00,167.50 C457.50,169.18 457.50,170.95 458.00,173.30 C458.50,175.65 459.20,179.23 460.00,181.60 C460.80,183.97 462.30,185.57 462.80,187.50 C463.30,189.43 463.37,191.42 463.00,193.20 C462.63,194.98 462.30,196.25 460.60,198.20 C458.90,200.15 455.20,203.05 452.80,204.90 C450.40,206.75 448.42,208.02 446.20,209.30 C443.98,210.58 441.35,211.30 439.50,212.60 C437.65,213.90 436.38,215.43 435.10,217.10 C433.82,218.77 432.63,220.77 431.80,222.60 C430.97,224.43 430.63,226.03 430.10,228.10 C429.57,230.17 428.98,232.58 428.60,235.00 C428.22,237.42 428.13,240.22 427.80,242.60 C427.47,244.98 426.75,247.07 426.60,249.30 C426.45,251.53 426.70,253.97 426.90,256.00 C427.10,258.03 427.65,259.30 427.80,261.50 C427.95,263.70 427.90,266.78 427.80,269.20 C427.70,271.62 427.42,273.20 427.20,276.00 C426.98,278.80 426.82,282.23 426.50,286.00 C426.18,289.77 425.65,294.67 425.30,298.60 C424.95,302.53 424.55,307.77 424.40,309.60 Z" fill="#63976a"/></g></g>
<g fill="none" stroke="#000" stroke-width="1.0" stroke-linejoin="round">
<path d="M424.40,113.00 C424.52,113.75 424.90,115.87 425.10,117.50 C425.30,119.13 425.42,120.88 425.60,122.80 C425.78,124.72 425.88,126.58 426.20,129.00 C426.52,131.42 427.05,134.88 427.50,137.30 C427.95,139.72 428.23,141.95 428.90,143.50 C429.57,145.05 430.23,145.38 431.50,146.60 C432.77,147.82 434.98,149.55 436.50,150.80 C438.02,152.05 439.35,153.07 440.60,154.10 C441.85,155.13 442.75,156.03 444.00,157.00 C445.25,157.97 446.87,159.00 448.10,159.90 C449.33,160.80 450.18,161.30 451.40,162.40 C452.62,163.50 454.22,165.23 455.40,166.50 C456.58,167.77 457.18,168.58 458.50,170.00 C459.82,171.42 461.53,173.07 463.30,175.00 C465.07,176.93 467.72,179.63 469.10,181.60 C470.48,183.57 471.30,185.03 471.60,186.80 C471.90,188.57 471.50,190.58 470.90,192.20 C470.30,193.82 469.15,195.13 468.00,196.50 C466.85,197.87 465.80,198.82 464.00,200.40 C462.20,201.98 459.62,204.15 457.20,206.00 C454.78,207.85 452.08,209.83 449.50,211.50 C446.92,213.17 443.92,214.52 441.70,216.00 C439.48,217.48 437.67,218.93 436.20,220.40 C434.73,221.87 433.73,223.33 432.90,224.80 C432.07,226.27 431.67,227.33 431.20,229.20 C430.73,231.07 430.48,234.13 430.10,236.00 C429.72,237.87 429.38,238.73 428.90,240.40 C428.42,242.07 427.75,244.15 427.20,246.00 C426.65,247.85 426.07,249.83 425.60,251.50 C425.13,253.17 424.60,255.25 424.40,256.00 Z"/><path d="M424.40,110.50 C424.50,110.72 424.67,110.88 425.00,111.80 C425.33,112.72 425.98,114.63 426.40,116.00 C426.82,117.37 426.97,118.42 427.50,120.00 C428.03,121.58 428.90,123.65 429.60,125.50 C430.30,127.35 431.00,129.37 431.70,131.10 C432.40,132.83 433.00,134.40 433.80,135.90 C434.60,137.40 435.58,138.83 436.50,140.10 C437.42,141.37 438.38,142.43 439.30,143.50 C440.22,144.57 441.08,145.57 442.00,146.50 C442.92,147.43 443.78,148.10 444.80,149.10 C445.82,150.10 447.20,151.35 448.10,152.50 C449.00,153.65 449.47,154.87 450.20,156.00 C450.93,157.13 451.70,158.10 452.50,159.30 C453.30,160.50 454.25,161.83 455.00,163.20 C455.75,164.57 456.50,165.82 457.00,167.50 C457.50,169.18 457.50,170.95 458.00,173.30 C458.50,175.65 459.20,179.23 460.00,181.60 C460.80,183.97 462.30,185.57 462.80,187.50 C463.30,189.43 463.37,191.42 463.00,193.20 C462.63,194.98 462.30,196.25 460.60,198.20 C458.90,200.15 455.20,203.05 452.80,204.90 C450.40,206.75 448.42,208.02 446.20,209.30 C443.98,210.58 441.35,211.30 439.50,212.60 C437.65,213.90 436.38,215.43 435.10,217.10 C433.82,218.77 432.63,220.77 431.80,222.60 C430.97,224.43 430.63,226.03 430.10,228.10 C429.57,230.17 428.98,232.58 428.60,235.00 C428.22,237.42 428.13,240.22 427.80,242.60 C427.47,244.98 426.75,247.07 426.60,249.30 C426.45,251.53 426.70,253.97 426.90,256.00 C427.10,258.03 427.65,259.30 427.80,261.50 C427.95,263.70 427.90,266.78 427.80,269.20 C427.70,271.62 427.42,273.20 427.20,276.00 C426.98,278.80 426.82,282.23 426.50,286.00 C426.18,289.77 425.65,294.67 425.30,298.60 C424.95,302.53 424.55,307.77 424.40,309.60 Z"/><path d="M424.40,22.00 C424.57,22.50 424.93,23.88 425.40,25.00 C425.87,26.12 426.63,27.45 427.20,28.70 C427.77,29.95 428.48,31.57 428.80,32.50 C429.12,33.43 429.15,33.48 429.10,34.30 C429.05,35.12 428.72,36.37 428.50,37.40 C428.28,38.43 427.87,39.35 427.80,40.50 C427.73,41.65 428.02,43.15 428.10,44.30 C428.18,45.45 428.33,46.45 428.30,47.40 C428.27,48.35 427.95,49.10 427.90,50.00 C427.85,50.90 428.08,51.88 428.00,52.80 C427.92,53.72 427.57,54.58 427.40,55.50 C427.23,56.42 427.05,57.13 427.00,58.30 C426.95,59.47 427.10,61.12 427.10,62.50 C427.10,63.88 427.13,65.22 427.00,66.60 C426.87,67.98 426.60,69.53 426.30,70.80 C426.00,72.07 425.20,73.05 425.20,74.20 C425.20,75.35 425.93,76.53 426.30,77.70 C426.67,78.87 427.12,79.82 427.40,81.20 C427.68,82.58 427.90,84.28 428.00,86.00 C428.10,87.72 428.03,89.67 428.00,91.50 C427.97,93.33 427.78,95.38 427.80,97.00 C427.82,98.62 427.77,100.07 428.10,101.20 C428.43,102.33 428.93,102.40 429.80,103.80 C430.67,105.20 432.23,107.87 433.30,109.60 C434.37,111.33 435.05,113.05 436.20,114.20 C437.35,115.35 437.80,115.53 440.20,116.50 C442.60,117.47 446.93,118.85 450.60,120.00 C454.27,121.15 457.15,121.85 462.20,123.40 C467.25,124.95 475.70,127.78 480.90,129.30 C486.10,130.82 489.62,131.55 493.40,132.50 C497.18,133.45 501.20,134.35 503.60,135.00 C506.00,135.65 507.37,135.90 507.80,136.40 C508.23,136.90 507.57,137.47 506.20,138.00 C504.83,138.53 502.77,138.87 499.60,139.60 C496.43,140.33 491.35,141.42 487.20,142.40 C483.05,143.38 478.87,144.45 474.70,145.50 C470.53,146.55 465.32,147.75 462.20,148.70 C459.08,149.65 458.13,150.10 456.00,151.20 C453.87,152.30 451.23,154.23 449.40,155.30 C447.57,156.37 446.43,156.43 445.00,157.60 C443.57,158.77 442.88,160.97 440.80,162.30 C438.72,163.63 434.58,164.53 432.50,165.60 C430.42,166.67 429.07,167.48 428.30,168.70 C427.53,169.92 427.73,171.33 427.90,172.90 C428.07,174.47 429.40,176.20 429.30,178.10 C429.20,180.00 427.87,182.05 427.30,184.30 C426.73,186.55 426.13,188.65 425.90,191.60 C425.67,194.55 425.82,198.93 425.90,202.00 C425.98,205.07 426.38,207.75 426.40,210.00 C426.42,212.25 426.23,213.92 426.00,215.50 C425.77,217.08 425.27,218.25 425.00,219.50 C424.73,220.75 424.50,222.42 424.40,223.00 Z"/>
</g>

<g stroke="#1a1a1a" stroke-width="1.5" fill="none"><path d="M89,7.8 V324.2 H363"/><path d="M420.4,7.8 V324.2 H512.5"/></g><g stroke="#1a1a1a" stroke-width="1.1"><line x1="85.8" y1="22.2" x2="89" y2="22.2"/><line x1="417" y1="22.2" x2="420.4" y2="22.2"/><line x1="85.8" y1="79.8" x2="89" y2="79.8"/><line x1="417" y1="79.8" x2="420.4" y2="79.8"/><line x1="85.8" y1="137.3" x2="89" y2="137.3"/><line x1="417" y1="137.3" x2="420.4" y2="137.3"/><line x1="85.8" y1="194.9" x2="89" y2="194.9"/><line x1="417" y1="194.9" x2="420.4" y2="194.9"/><line x1="85.8" y1="252.4" x2="89" y2="252.4"/><line x1="417" y1="252.4" x2="420.4" y2="252.4"/><line x1="85.8" y1="310.0" x2="89" y2="310.0"/><line x1="417" y1="310.0" x2="420.4" y2="310.0"/><line x1="98.5" y1="324" x2="98.5" y2="327.6"/><line x1="113.3" y1="324" x2="113.3" y2="327.6"/><line x1="128.1" y1="324" x2="128.1" y2="327.6"/><line x1="143.0" y1="324" x2="143.0" y2="327.6"/><line x1="157.8" y1="324" x2="157.8" y2="327.6"/><line x1="172.6" y1="324" x2="172.6" y2="327.6"/><line x1="187.4" y1="324" x2="187.4" y2="327.6"/><line x1="202.2" y1="324" x2="202.2" y2="327.6"/><line x1="217.1" y1="324" x2="217.1" y2="327.6"/><line x1="231.9" y1="324" x2="231.9" y2="327.6"/><line x1="246.7" y1="324" x2="246.7" y2="327.6"/><line x1="261.5" y1="324" x2="261.5" y2="327.6"/><line x1="276.3" y1="324" x2="276.3" y2="327.6"/><line x1="291.2" y1="324" x2="291.2" y2="327.6"/><line x1="306.0" y1="324" x2="306.0" y2="327.6"/><line x1="320.8" y1="324" x2="320.8" y2="327.6"/><line x1="335.6" y1="324" x2="335.6" y2="327.6"/><line x1="350.4" y1="324" x2="350.4" y2="327.6"/><line x1="424.4" y1="324" x2="424.4" y2="327.6"/><line x1="447.6" y1="324" x2="447.6" y2="327.6"/><line x1="470.9" y1="324" x2="470.9" y2="327.6"/><line x1="494.1" y1="324" x2="494.1" y2="327.6"/></g>
<text x="82" y="25.3" font-size="9.3" text-anchor="end" fill="#050505" textLength="31.44" lengthAdjust="spacingAndGlyphs">100.000</text><text x="413.6" y="25.3" font-size="9.3" text-anchor="end" fill="#050505" textLength="31.44" lengthAdjust="spacingAndGlyphs">100.000</text><text x="82" y="82.9" font-size="9.3" text-anchor="end" fill="#050505" textLength="26.60" lengthAdjust="spacingAndGlyphs">10.000</text><text x="413.6" y="82.9" font-size="9.3" text-anchor="end" fill="#050505" textLength="26.60" lengthAdjust="spacingAndGlyphs">10.000</text><text x="82" y="140.4" font-size="9.3" text-anchor="end" fill="#050505" textLength="21.77" lengthAdjust="spacingAndGlyphs">1.000</text><text x="413.6" y="140.4" font-size="9.3" text-anchor="end" fill="#050505" textLength="21.77" lengthAdjust="spacingAndGlyphs">1.000</text><text x="82" y="198.0" font-size="9.3" text-anchor="end" fill="#050505" textLength="21.77" lengthAdjust="spacingAndGlyphs">0.100</text><text x="413.6" y="198.0" font-size="9.3" text-anchor="end" fill="#050505" textLength="21.77" lengthAdjust="spacingAndGlyphs">0.100</text><text x="82" y="255.5" font-size="9.3" text-anchor="end" fill="#050505" textLength="21.77" lengthAdjust="spacingAndGlyphs">0.010</text><text x="413.6" y="255.5" font-size="9.3" text-anchor="end" fill="#050505" textLength="21.77" lengthAdjust="spacingAndGlyphs">0.010</text><text x="82" y="313.1" font-size="9.3" text-anchor="end" fill="#050505" textLength="21.77" lengthAdjust="spacingAndGlyphs">0.001</text><text x="413.6" y="313.1" font-size="9.3" text-anchor="end" fill="#050505" textLength="21.77" lengthAdjust="spacingAndGlyphs">0.001</text><text x="98.5" y="338.9" font-size="9.3" text-anchor="middle" fill="#050505" textLength="4.84" lengthAdjust="spacingAndGlyphs">0</text><text x="113.3" y="338.9" font-size="9.3" text-anchor="middle" fill="#050505" textLength="4.84" lengthAdjust="spacingAndGlyphs">5</text><text x="128.1" y="338.9" font-size="9.3" text-anchor="middle" fill="#050505" textLength="9.67" lengthAdjust="spacingAndGlyphs">10</text><text x="143.0" y="338.9" font-size="9.3" text-anchor="middle" fill="#050505" textLength="9.67" lengthAdjust="spacingAndGlyphs">15</text><text x="157.8" y="338.9" font-size="9.3" text-anchor="middle" fill="#050505" textLength="9.67" lengthAdjust="spacingAndGlyphs">20</text><text x="172.6" y="338.9" font-size="9.3" text-anchor="middle" fill="#050505" textLength="9.67" lengthAdjust="spacingAndGlyphs">25</text><text x="187.4" y="338.9" font-size="9.3" text-anchor="middle" fill="#050505" textLength="9.67" lengthAdjust="spacingAndGlyphs">30</text><text x="202.2" y="338.9" font-size="9.3" text-anchor="middle" fill="#050505" textLength="9.67" lengthAdjust="spacingAndGlyphs">35</text><text x="217.1" y="338.9" font-size="9.3" text-anchor="middle" fill="#050505" textLength="9.67" lengthAdjust="spacingAndGlyphs">40</text><text x="231.9" y="338.9" font-size="9.3" text-anchor="middle" fill="#050505" textLength="9.67" lengthAdjust="spacingAndGlyphs">45</text><text x="246.7" y="338.9" font-size="9.3" text-anchor="middle" fill="#050505" textLength="9.67" lengthAdjust="spacingAndGlyphs">50</text><text x="261.5" y="338.9" font-size="9.3" text-anchor="middle" fill="#050505" textLength="9.67" lengthAdjust="spacingAndGlyphs">55</text><text x="276.3" y="338.9" font-size="9.3" text-anchor="middle" fill="#050505" textLength="9.67" lengthAdjust="spacingAndGlyphs">60</text><text x="291.2" y="338.9" font-size="9.3" text-anchor="middle" fill="#050505" textLength="9.67" lengthAdjust="spacingAndGlyphs">65</text><text x="306.0" y="338.9" font-size="9.3" text-anchor="middle" fill="#050505" textLength="9.67" lengthAdjust="spacingAndGlyphs">70</text><text x="320.8" y="338.9" font-size="9.3" text-anchor="middle" fill="#050505" textLength="9.67" lengthAdjust="spacingAndGlyphs">75</text><text x="335.6" y="338.9" font-size="9.3" text-anchor="middle" fill="#050505" textLength="9.67" lengthAdjust="spacingAndGlyphs">80</text><text x="350.4" y="338.9" font-size="9.3" text-anchor="middle" fill="#050505" textLength="9.67" lengthAdjust="spacingAndGlyphs">85</text><text x="424.4" y="338.9" font-size="9.3" text-anchor="middle" fill="#050505" textLength="12.09" lengthAdjust="spacingAndGlyphs">0.0</text><text x="447.6" y="338.9" font-size="9.3" text-anchor="middle" fill="#050505" textLength="12.09" lengthAdjust="spacingAndGlyphs">0.5</text><text x="470.9" y="338.9" font-size="9.3" text-anchor="middle" fill="#050505" textLength="12.09" lengthAdjust="spacingAndGlyphs">1.0</text><text x="494.1" y="338.9" font-size="9.3" text-anchor="middle" fill="#050505" textLength="12.09" lengthAdjust="spacingAndGlyphs">1.5</text><text x="226" y="353.6" font-size="11.2" text-anchor="middle" fill="#050505" textLength="25.5" lengthAdjust="spacingAndGlyphs">Patient</text><text x="466.5" y="353.8" font-size="11.2" text-anchor="middle" fill="#050505" textLength="27.9" lengthAdjust="spacingAndGlyphs">Density</text>
<g transform="translate(0,0)">
<text transform="translate(18.6,167.3) rotate(-90)" font-size="10.3" text-anchor="middle" fill="#222"><tspan textLength="42.5" lengthAdjust="spacingAndGlyphs">Serum TXB</tspan><tspan font-size="7" dy="2.6">2</tspan></text>
<text transform="translate(32,166) rotate(-90)" font-size="10.3" text-anchor="middle" fill="#222" textLength="50.4" lengthAdjust="spacingAndGlyphs">visit 3/ visit 2</text>
<text transform="translate(41.8,167.8) rotate(-90)" font-size="10.3" text-anchor="middle" fill="#222" textLength="21" lengthAdjust="spacingAndGlyphs">ratio</text>
</g>

<circle cx="232.2" cy="18.3" r="3.1" fill="#4a8fd8" stroke="#3a72c0" stroke-width="0.8"/>
<circle cx="232.2" cy="30.5" r="3.1" fill="#f0c12c" stroke="#c9a24a" stroke-width="0.8"/>
<circle cx="232.2" cy="42.7" r="3.1" fill="#a6a6a6" stroke="#8393aa" stroke-width="0.8"/>
<text x="239.4" y="21.3" font-size="9.1" text-anchor="start" fill="#050505" textLength="39.4" lengthAdjust="spacingAndGlyphs">100 mg od</text>
<text x="239.4" y="33.5" font-size="9.1" text-anchor="start" fill="#050505" textLength="41.5" lengthAdjust="spacingAndGlyphs">100 mg bid</text>
<text x="239.4" y="45.7" font-size="9.1" text-anchor="start" fill="#050505" textLength="39.4" lengthAdjust="spacingAndGlyphs">100 mg tid</text>

<g fill="#000"><rect x="0" y="0" width="520" height="1.2"/><rect x="0" y="0" width="1.2" height="361"/><rect x="518.7" y="0" width="1.3" height="361"/><rect x="0" y="359.5" width="520" height="1.5"/></g>
</svg></body></html>
